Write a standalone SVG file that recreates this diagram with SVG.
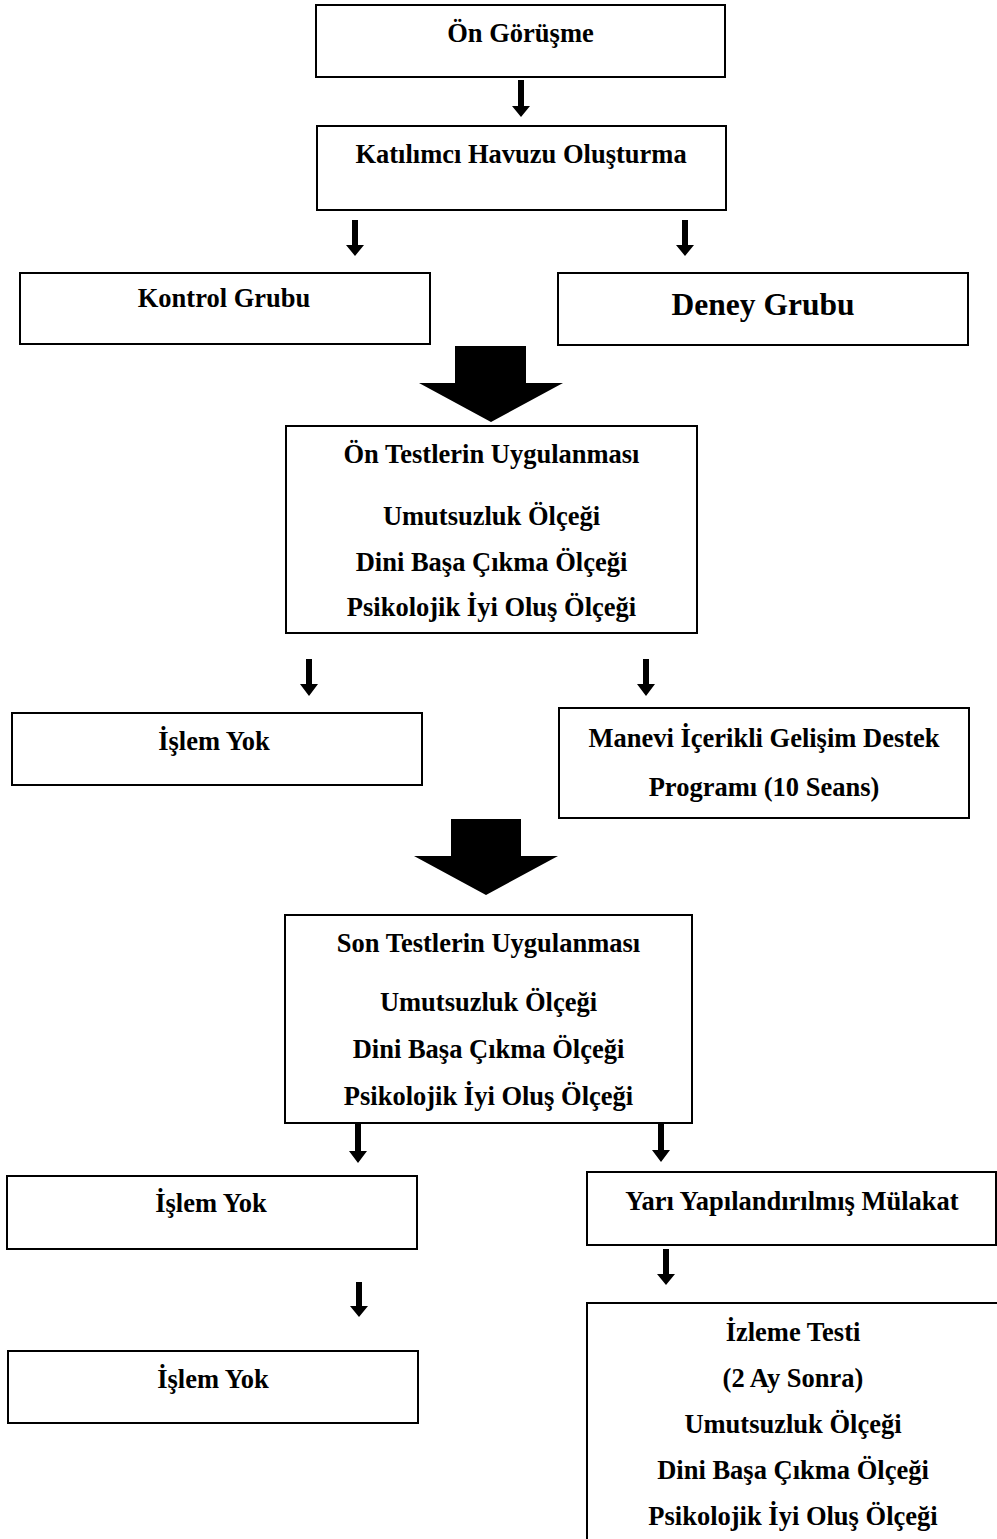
<svg xmlns="http://www.w3.org/2000/svg" width="997" height="1539" viewBox="0 0 997 1539">
<style>
.box{fill:#fff;stroke:#000;stroke-width:2}
.t{font-family:"Liberation Serif","Times New Roman",serif;font-weight:bold;font-size:26.5px;fill:#000;text-anchor:middle}
.big{font-size:31.5px}
.arr{fill:#000}
</style>
<rect width="997" height="1539" fill="#fff"/>
<g id="connectors">
<path class="arr" d="M518,80H524V106H530L521,117L512,106H518Z"/>
<path class="arr" d="M352,220H358V245H364L355,256L346,245H352Z"/>
<path class="arr" d="M682,220H688V245H694L685,256L676,245H682Z"/>
<path class="arr" d="M306,659H312V684H318L309,696L300,684H306Z"/>
<path class="arr" d="M643,659H649V684H655L646,696L637,684H643Z"/>
<path class="arr" d="M355,1123H361V1151H367L358,1163L349,1151H355Z"/>
<path class="arr" d="M658,1123H664V1150H670L661,1162L652,1150H658Z"/>
<path class="arr" d="M663,1249H669V1274H675L666,1285L657,1274H663Z"/>
<path class="arr" d="M356,1282H362V1306H368L359,1317L350,1306H356Z"/>
<path class="arr" d="M455,346H526V383H563L491,422L419,383H455Z"/>
<path class="arr" d="M451,819H521V856H558L486,895L414,856H451Z"/>
</g>
<g id="on-gorusme"><rect class="box" x="316" y="5" width="409" height="72"/><text class="t" x="520.5" y="42">Ön Görüşme</text></g>
<g id="havuz"><rect class="box" x="317" y="126" width="409" height="84"/><text class="t" x="521" y="163">Katılımcı Havuzu Oluşturma</text></g>
<g id="kontrol"><rect class="box" x="20" y="273" width="410" height="71"/><text class="t" x="224" y="307">Kontrol Grubu</text></g>
<g id="deney"><rect class="box" x="558" y="273" width="410" height="72"/><text class="t big" x="763" y="315">Deney Grubu</text></g>
<g id="on-testler"><rect class="box" x="286" y="426" width="411" height="207"/>
<text class="t" x="491.5" y="463">Ön Testlerin Uygulanması</text>
<text class="t" x="491.5" y="525">Umutsuzluk Ölçeği</text>
<text class="t" x="491.5" y="571">Dini Başa Çıkma Ölçeği</text>
<text class="t" x="491.5" y="616">Psikolojik İyi Oluş Ölçeği</text></g>
<g id="islem1"><rect class="box" x="12" y="713" width="410" height="72"/><text class="t" x="214" y="750">İşlem Yok</text></g>
<g id="manevi"><rect class="box" x="559" y="708" width="410" height="110"/>
<text class="t" x="764" y="747">Manevi İçerikli Gelişim Destek</text>
<text class="t" x="764" y="796">Programı (10 Seans)</text></g>
<g id="son-testler"><rect class="box" x="285" y="915" width="407" height="208"/>
<text class="t" x="488.5" y="952">Son Testlerin Uygulanması</text>
<text class="t" x="488.5" y="1011">Umutsuzluk Ölçeği</text>
<text class="t" x="488.5" y="1058">Dini Başa Çıkma Ölçeği</text>
<text class="t" x="488.5" y="1105">Psikolojik İyi Oluş Ölçeği</text></g>
<g id="islem2"><rect class="box" x="7" y="1176" width="410" height="73"/><text class="t" x="211" y="1212">İşlem Yok</text></g>
<g id="mulakat"><rect class="box" x="587" y="1172" width="409" height="73"/><text class="t" x="792" y="1210">Yarı Yapılandırılmış Mülakat</text></g>
<g id="islem3"><rect class="box" x="8" y="1351" width="410" height="72"/><text class="t" x="213" y="1388">İşlem Yok</text></g>
<g id="izleme"><rect class="box" x="587" y="1303" width="420" height="260"/>
<text class="t" x="793" y="1341">İzleme Testi</text>
<text class="t" x="793" y="1387">(2 Ay Sonra)</text>
<text class="t" x="793" y="1433">Umutsuzluk Ölçeği</text>
<text class="t" x="793" y="1479">Dini Başa Çıkma Ölçeği</text>
<text class="t" x="793" y="1525">Psikolojik İyi Oluş Ölçeği</text></g>
</svg>
